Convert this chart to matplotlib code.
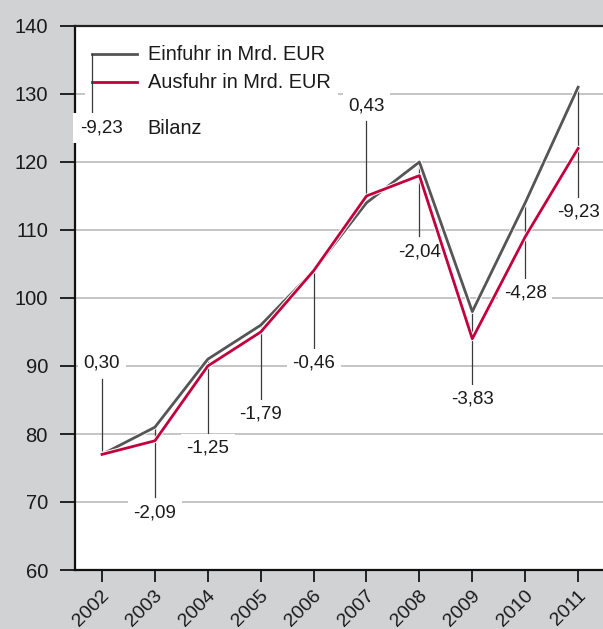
import matplotlib.pyplot as plt
import matplotlib.patheffects as pe
import matplotlib.transforms as mtransforms
from matplotlib.patches import Rectangle

plt.rcParams['font.family'] = ['Liberation Sans', 'DejaVu Sans']

# Werte
jahre = [2002, 2003, 2004, 2005, 2006, 2007, 2008, 2009, 2010, 2011]
einfuhr = [77, 81, 91, 96, 104, 114, 120, 98, 114, 131]
ausfuhr = [77, 79, 90, 95, 104, 115, 118, 94, 109, 122]
bilanz = ["0,30", "-2,09", "-1,25", "-1,79", "-0,46", "0,43", "-2,04", "-3,83", "-4,28", "-9,23"]
# Hoehe der Beschriftung (Mitte) in Achsenwerten
bilanz_y = [90.4, 68.4, 77.9, 82.9, 90.4, 128.3, 106.8, 85.1, 100.7, 112.6]

grau = "#555555"
rot = "#c2003d"
hintergrund = "#d1d2d4"

fig = plt.figure(figsize=(6.03, 6.29), dpi=100, facecolor=hintergrund)
ax = fig.add_axes([75 / 603, 59 / 629, 528 / 603, 544 / 629])
ax.set_facecolor("white")

ax.set_xlim(2002 - 27 / 52.9, 2002 - 27 / 52.9 + 528 / 52.9)
ax.set_ylim(60, 140)

# Gitter
for v in range(70, 140, 10):
    ax.axhline(v, color="#b5b5b5", lw=1.1, zorder=0.5)

outline = [pe.Stroke(linewidth=3.4, foreground="white"), pe.Normal()]
ax.plot(jahre, einfuhr, color=grau, lw=2.0, zorder=3, path_effects=outline)
ax.plot(jahre, ausfuhr, color=rot, lw=2.0, zorder=3.1, path_effects=outline)

# Bilanz: senkrechte Linien mit Werten
gap = 2.3
for x, e, a, txt, ly in zip(jahre, einfuhr, ausfuhr, bilanz, bilanz_y):
    if ly > max(e, a):
        y0, y1 = min(e, a), ly - gap
    else:
        y0, y1 = max(e, a), ly + gap
    ax.plot([x, x], [y0, y1], color="#3a3a3a", lw=0.9, zorder=2.8)
    ax.text(x, ly, txt, ha="center", va="center", fontsize=13.5, color="#1a1a1a",
            zorder=2.9, bbox=dict(boxstyle="square,pad=0.3", fc="white", ec="none"))

# Legende
ax.add_patch(Rectangle((0.019, 0.775), 0.479, 0.205, transform=ax.transAxes,
                       fc="white", ec="none", zorder=1.5))
ax.plot([0.032, 0.117], [0.9485, 0.9485], transform=ax.transAxes, color=grau, lw=2.0, zorder=4)
ax.plot([0.032, 0.117], [0.897, 0.897], transform=ax.transAxes, color=rot, lw=2.0, zorder=4)
ax.plot([0.032, 0.032], [0.9485, 0.840], transform=ax.transAxes, color="#3a3a3a", lw=0.9, zorder=4)
ax.text(0.138, 0.9485, "Einfuhr in Mrd. EUR", transform=ax.transAxes, fontsize=14.4,
        va="center", color="#1a1a1a", zorder=4)
ax.text(0.138, 0.897, "Ausfuhr in Mrd. EUR", transform=ax.transAxes, fontsize=14.4,
        va="center", color="#1a1a1a", zorder=4)
ax.text(0.138, 0.8125, "Bilanz", transform=ax.transAxes, fontsize=14.4,
        va="center", color="#1a1a1a", zorder=4)
ax.text(0.05, 0.8125, "-9,23", transform=ax.transAxes, fontsize=13.5, ha="center",
        va="center", color="#1a1a1a", zorder=5, clip_on=False,
        bbox=dict(boxstyle="square,pad=0.35", fc="white", ec="none"))

# Achsen
for s in ["left", "bottom"]:
    ax.spines[s].set_linewidth(1.6)
    ax.spines[s].set_color("#111111")
ax.spines["top"].set_linewidth(1.6)
ax.spines["top"].set_color("#222222")
ax.spines["right"].set_visible(False)

ax.set_yticks(range(60, 150, 10))
ax.set_xticks(jahre)
ax.tick_params(axis="y", length=11, width=1.4, color="#222222", pad=8.5,
               labelsize=14.5, labelcolor="#1a1a1a")
ax.tick_params(axis="x", length=8.6, width=1.4, color="#222222", pad=8,
               labelsize=14, labelcolor="#1a1a1a")
shift = mtransforms.ScaledTranslation(5 / 100, 0, fig.dpi_scale_trans)
for lab in ax.get_xticklabels():
    lab.set_rotation(45)
    lab.set_ha("right")
    lab.set_va("center")
    lab.set_rotation_mode("anchor")
    lab.set_transform(lab.get_transform() + shift)

fig.savefig("out.png", dpi=100, facecolor=hintergrund)
